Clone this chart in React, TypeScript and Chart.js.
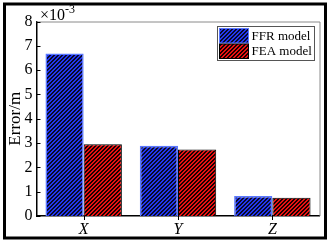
import React, { useEffect, useRef } from "react";
import { Chart, registerables } from "chart.js";

Chart.register(...registerables);

const categories = ["X", "Y", "Z"];
const seriesNames = ["FFR model", "FEA model"];
const ffrValues = [6.68, 2.89, 0.82];
const feaValues = [2.95, 2.74, 0.75];
const yTicks = [0, 1, 2, 3, 4, 5, 6, 7, 8];

const SERIF = "'Liberation Serif', 'Times New Roman', serif";

function makePattern(base: string, line: string): CanvasPattern | string {
  const n = 4;
  const c = document.createElement("canvas");
  c.width = n;
  c.height = n;
  const ctx = c.getContext("2d");
  if (!ctx) return base;
  ctx.fillStyle = base;
  ctx.fillRect(0, 0, n, n);
  ctx.fillStyle = line;
  for (let x = 0; x < n; x++) {
    for (let y = 0; y < n; y++) {
      const d = (x + y) % n;
      if (d === 0 || d === 1) ctx.fillRect(x, y, 1, 1);
    }
  }
  const p = ctx.createPattern(c, "repeat");
  return p || base;
}

export default function App() {
  const ref = useRef<HTMLCanvasElement>(null);

  useEffect(() => {
    document.body.style.margin = "0";
    const canvas = ref.current;
    if (!canvas) return;
    const blue = makePattern("#2238f0", "#0a0a2a");
    const red = makePattern("#e81212", "#1a0000");
    const ffrBorder = "#5a78ff";
    const feaBorder = "#000000";

    const overlay = {
      id: "overlay",
      afterDraw(chart: any) {
        const ctx = chart.ctx as CanvasRenderingContext2D;
        const area = chart.chartArea;
        const ys = chart.scales.y;
        const xs = chart.scales.x;
        ctx.save();
        // plot top/right border
        ctx.strokeStyle = "#8a8a8a";
        ctx.lineWidth = 1;
        ctx.beginPath();
        ctx.moveTo(area.left, area.top + 0.5);
        ctx.lineTo(area.right + 0.5, area.top + 0.5);
        ctx.lineTo(area.right + 0.5, area.bottom);
        ctx.stroke();
        // y inner ticks
        ctx.strokeStyle = "#000";
        ctx.lineWidth = 1;
        ctx.beginPath();
        yTicks.forEach((v) => {
          const py = Math.round(ys.getPixelForValue(v)) + 0.5;
          ctx.moveTo(area.left, py);
          ctx.lineTo(area.left + 4, py);
        });
        // x ticks downward
        categories.forEach((_, i) => {
          const px = Math.round(xs.getPixelForValue(i)) + 0.5;
          ctx.moveTo(px, area.bottom);
          ctx.lineTo(px, area.bottom + 4);
        });
        ctx.stroke();
        // multiplier
        ctx.fillStyle = "#000";
        ctx.textBaseline = "alphabetic";
        ctx.textAlign = "left";
        ctx.font = `16px ${SERIF}`;
        ctx.fillText("\u00d710", 40, 20);
        const w = ctx.measureText("\u00d710").width;
        ctx.font = `12px ${SERIF}`;
        ctx.fillText("-3", 40 + w, 13);
        // legend
        const lx = 217.5, ly = 26.5, lw = 97, lh = 34;
        ctx.fillStyle = "#fff";
        ctx.fillRect(lx, ly, lw, lh);
        ctx.strokeStyle = "#555";
        ctx.lineWidth = 1;
        ctx.strokeRect(lx, ly, lw, lh);
        const fills = [blue, red];
        const borders = [ffrBorder, feaBorder];
        seriesNames.forEach((name, i) => {
          const sy = ly + 2 + i * 15.5;
          ctx.fillStyle = fills[i] as any;
          ctx.fillRect(lx + 2, sy, 29, 14.5);
          ctx.strokeStyle = borders[i];
          ctx.lineWidth = 1;
          ctx.strokeRect(lx + 2, sy, 29, 14.5);
          ctx.fillStyle = "#000";
          ctx.font = `13px ${SERIF}`;
          ctx.textBaseline = "middle";
          ctx.fillText(name, lx + 34, sy + 8);
        });
        // outer frame
        ctx.strokeStyle = "#000";
        ctx.lineWidth = 3;
        ctx.strokeRect(4.5, 4, 321, 234);
        ctx.restore();
      },
    };

    const chart = new Chart(canvas, {
      type: "bar",
      data: {
        labels: categories,
        datasets: [
          {
            label: seriesNames[0],
            data: ffrValues,
            backgroundColor: blue as any,
            borderColor: ffrBorder,
            borderWidth: 1.5,
            borderSkipped: "start",
            categoryPercentage: 0.81,
            barPercentage: 1.0,
          },
          {
            label: seriesNames[1],
            data: feaValues,
            backgroundColor: red as any,
            borderColor: feaBorder,
            borderWidth: 1,
            borderSkipped: "start",
            categoryPercentage: 0.81,
            barPercentage: 1.0,
          },
        ],
      },
      options: {
        responsive: false,
        animation: false,
        devicePixelRatio: 1,
        layout: { padding: { top: 21.5, right: 11.5, left: 0, bottom: 0 } },
        plugins: {
          legend: { display: false },
          tooltip: { enabled: false },
        },
        scales: {
          x: {
            grid: { display: false, drawTicks: false },
            border: { display: true, color: "#000", width: 1.5 },
            ticks: {
              color: "#000",
              padding: 4,
              font: { family: SERIF, size: 16, style: "italic" },
            },
            afterFit: (s: any) => {
              s.height = 27;
            },
          },
          y: {
            min: 0,
            max: 8,
            grid: { display: false, drawTicks: false },
            border: { display: true, color: "#000", width: 1.5 },
            ticks: {
              stepSize: 1,
              color: "#000",
              padding: 4,
              font: { family: SERIF, size: 16 },
            },
            title: {
              display: true,
              text: "Error/m",
              color: "#000",
              padding: { top: 5, bottom: 0 },
              font: { family: SERIF, size: 17 },
            },
            afterFit: (s: any) => {
              s.width = 36.5;
            },
          },
        },
      },
      plugins: [overlay],
    });
    return () => chart.destroy();
  }, []);

  return <canvas ref={ref} width={331} height={243} style={{ display: "block" }} />;
}
